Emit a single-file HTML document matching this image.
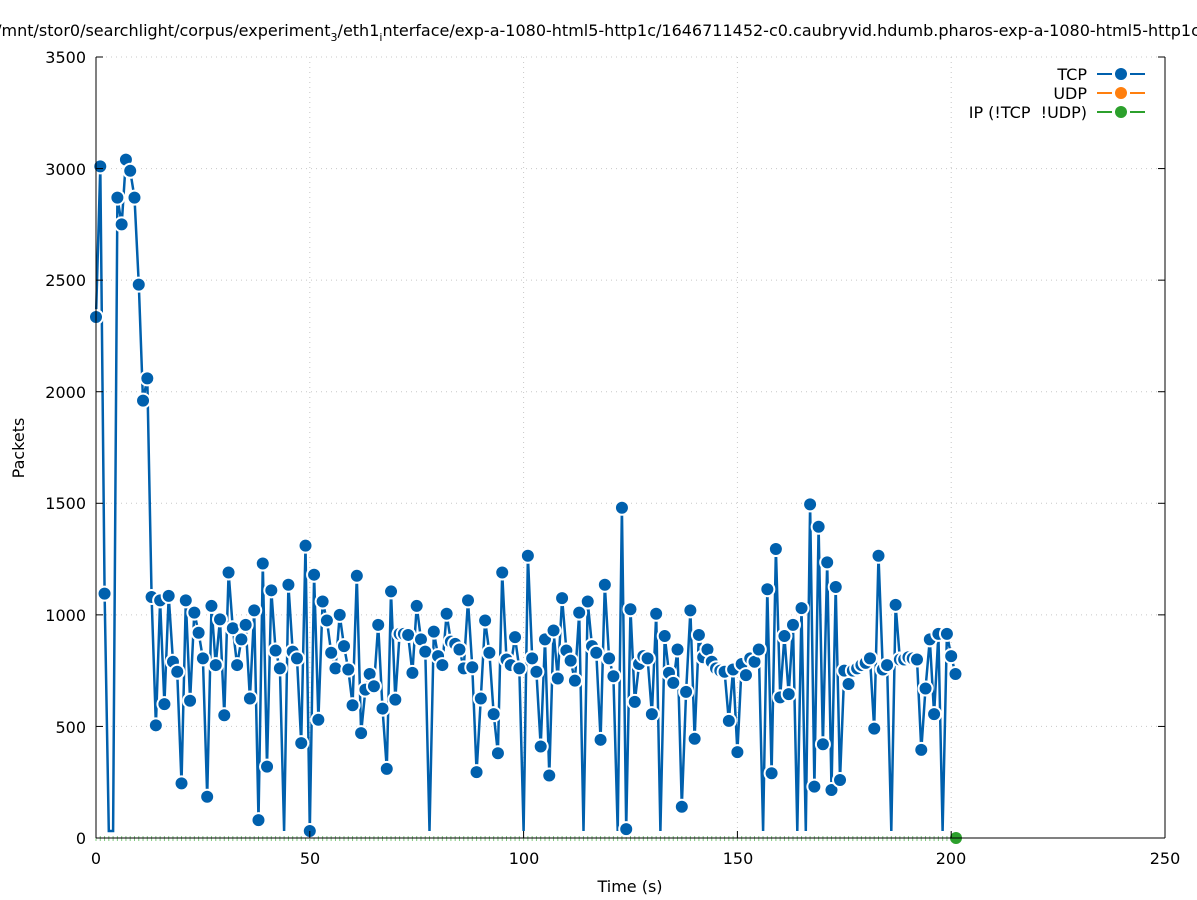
<!DOCTYPE html>
<html><head><meta charset="utf-8"><style>
html,body{margin:0;padding:0;background:#fff;}
svg{display:block;font-family:"DejaVu Sans","Liberation Sans",sans-serif;}
</style></head><body>
<svg id="s" width="1197" height="900" viewBox="0 0 1197 900" xmlns="http://www.w3.org/2000/svg">
<rect width="1197" height="900" fill="#fff"/>
<g id="grid" stroke="#c8c8c8" stroke-width="1" stroke-dasharray="1,4" fill="none"></g>
<g id="green"></g>
<g id="data"></g>
<g id="axes" stroke="#000" stroke-width="1" fill="none">
<line x1="96" y1="57" x2="96" y2="838"/>
<line x1="96" y1="838" x2="1165" y2="838"/>
<line x1="1165" y1="57" x2="1165" y2="838"/>
</g>
<g id="ticks" stroke="#000" stroke-width="1"></g>
<g font-size="16" fill="#000" text-anchor="end">
<text x="86" y="844">0</text><text x="86" y="733">500</text><text x="86" y="621">1000</text>
<text x="86" y="509">1500</text><text x="86" y="398">2000</text><text x="86" y="286">2500</text>
<text x="86" y="175">3000</text><text x="86" y="63">3500</text>
</g>
<g font-size="16" fill="#000" text-anchor="middle">
<text x="96" y="864">0</text><text x="310" y="864">50</text><text x="524" y="864">100</text>
<text x="738" y="864">150</text><text x="951" y="864">200</text><text x="1165" y="864">250</text>
<text x="630" y="892">Time (s)</text>
<text x="598" y="36">/mnt/stor0/searchlight/corpus/experiment<tspan font-size="11" dy="5">3</tspan><tspan dy="-5">/eth1</tspan><tspan font-size="11" dy="5">i</tspan><tspan dy="-5">nterface/exp-a-1080-html5-http1c/1646711452-c0.caubryvid.hdumb.pharos-exp-a-1080-html5-http1c</tspan></text>
<text transform="translate(24,448) rotate(-90)">Packets</text>
</g>
<g font-size="16" fill="#000" text-anchor="end">
<text x="1087" y="80">TCP</text><text x="1087" y="99">UDP</text><text x="1087" y="118">IP (!TCP &#160;!UDP)</text>
</g>
<g stroke-width="2">
<line x1="1097" y1="74" x2="1112" y2="74" stroke="#0060ad"/><line x1="1130" y1="74" x2="1145" y2="74" stroke="#0060ad"/><circle cx="1121" cy="74" r="6" fill="#0060ad"/>
<line x1="1097" y1="93" x2="1112" y2="93" stroke="#ff7f0e"/><line x1="1130" y1="93" x2="1145" y2="93" stroke="#ff7f0e"/><circle cx="1121" cy="93" r="6" fill="#ff7f0e"/>
<line x1="1097" y1="112" x2="1112" y2="112" stroke="#2ca02c"/><line x1="1130" y1="112" x2="1145" y2="112" stroke="#2ca02c"/><circle cx="1121" cy="112" r="6" fill="#2ca02c"/>
</g>
</svg>
<script>
var d=[2335,3010,1095,0,0,2870,2750,3040,2990,2870,2480,1960,2060,1080,505,1065,600,1085,790,745,245,1065,615,1010,920,805,185,1040,775,980,550,1190,940,775,890,955,625,1020,80,1230,320,1110,840,760,0,1135,835,805,425,1310,30,1180,530,1060,975,830,760,1000,860,755,595,1175,470,665,735,680,955,580,310,1105,620,915,915,910,740,1040,890,835,0,925,815,775,1005,880,870,845,760,1065,765,295,625,975,830,555,380,1190,800,775,900,760,0,1265,805,745,410,890,280,930,715,1075,840,795,705,1010,0,1060,860,830,440,1135,805,725,0,1480,40,1025,610,780,815,805,555,1005,0,905,740,695,845,140,655,1020,445,910,810,845,790,760,750,745,525,755,385,780,730,805,790,845,0,1115,290,1295,630,905,645,955,0,1030,0,1495,230,1395,420,1235,215,1125,260,750,690,750,760,775,785,805,490,1265,755,775,0,1045,800,800,810,805,800,395,670,890,555,915,0,915,815,735];
var NS="http://www.w3.org/2000/svg";
function X(t){return 96+t*4.276;}function Y(v){return Math.min(838-v*0.22314,831);}
function el(n,a,p){var e=document.createElementNS(NS,n);for(var k in a)e.setAttribute(k,a[k]);p.appendChild(e);return e;}
var g=document.getElementById('grid'),tk=document.getElementById('ticks');
for(var i=0;i<=7;i++){var y=838-i*500*0.22314;if(i>0)el('line',{x1:96,y1:y,x2:1165,y2:y},g);el('line',{x1:96,y1:y,x2:103,y2:y},tk);el('line',{x1:1158,y1:y,x2:1165,y2:y},tk);}
for(var i=0;i<=5;i++){var x=X(i*50);if(i>0&&i<5)el('line',{x1:x,y1:57,x2:x,y2:838},g);el('line',{x1:x,y1:838,x2:x,y2:831},tk);}
var gr=document.getElementById('green');
for(var t=0;t<=201;t++){el('line',{x1:X(t),y1:836,x2:X(t),y2:841,stroke:'#7fc97f','stroke-width':1},gr);}
el('circle',{cx:956,cy:838,r:6,fill:'#2ca02c'},gr);
var dg=document.getElementById('data');var pts=d.map(function(v,t){return X(t).toFixed(1)+','+Y(v).toFixed(1);}).join(' ');
el('polyline',{points:pts,fill:'none',stroke:'#0060ad','stroke-width':2.5,'stroke-linejoin':'miter'},dg);
d.forEach(function(v,t){if(v>0)el('circle',{cx:X(t),cy:Y(v),r:7,fill:'#0060ad',stroke:'#fff','stroke-width':2},dg);});
</script>
</body></html>
